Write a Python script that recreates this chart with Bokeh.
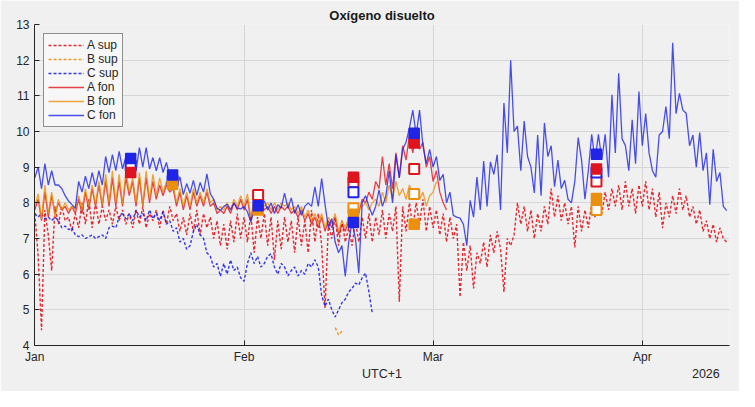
import numpy as np
import pandas as pd
from bokeh.plotting import figure
from bokeh.models import (Legend, LegendItem, FixedTicker, MonthsTicker,
                          DatetimeTickFormatter, Range1d, DatetimeAxis)
from bokeh.embed import file_html
from bokeh.resources import INLINE

nan = np.nan
START = "2026-01-01 00:00"          # first sample
X_START = "2025-12-31 23:00"        # axis start
X_END = "2026-04-13 22:00"          # axis end
STEP_H = 12  # sampling step of the series (hours)

# ---------------- data ----------------
a_sup = [7.7, 6.5, 4.43, 7.8, 7.1, 6.1, 7.9, 7.4, 7.9, 7.5, 7.6, 7.2, 7.7, 7.3, 8.0, 7.4,
         8.1, 7.3, 8.0, 7.4, 7.9, 7.5, 7.8, 7.4, 7.9, 7.5, 7.8, 7.4, 7.7, 7.3, 7.8, 7.4,
         7.9, 7.3, 7.7, 7.5, 7.8, 7.3, 7.8, 7.4, 7.9, 7.5, 7.7, 7.2, 7.6, 7.1, 7.7, 7.2,
         7.8, 7.1, 7.7, 7.3, 7.6, 7.0, 7.5, 6.8, 7.4, 6.7, 7.5, 6.9, 7.7, 7.0, 7.6, 6.9,
         7.7, 6.6, 7.6, 7.0, 7.7, 6.8, 7.6, 6.4, 7.5, 6.7, 7.6, 6.9, 7.5, 6.6, 7.6, 6.8,
         7.5, 6.6, 7.8, 6.9, 7.7, 6.8, 5.05, 7.4, 7.0, 7.6, 6.8, 7.5, 6.9, 7.3, 6.8, 7.5,
         6.9, 7.6, 7.0, 7.7, 6.9, 7.6, 7.1, 7.8, 7.0, 7.7, 7.2, 7.9, 5.23, 7.9, 7.2, 8.0,
         7.3, 8.0, 7.4, 8.1, 7.2, 7.9, 7.3, 7.8, 7.1, 7.7, 6.9, 7.6, 7.0, 7.4, 5.36, 6.9,
         6.1, 6.8, 5.6, 6.6, 6.3, 6.9, 6.2, 7.1, 6.6, 7.2, 6.7, 5.5, 7.0, 6.8, 7.1, 8.0,
         7.4, 7.9, 7.2, 7.8, 7.0, 7.7, 7.2, 7.9, 7.4, 8.4, 7.6, 8.2, 7.5, 8.0, 7.4, 7.9,
         6.75, 7.9, 7.2, 7.8, 7.3, 8.0, 7.6, 8.2, 7.7, 8.3, 7.8, 8.4, 7.9, 8.5, 7.8, 8.6,
         7.9, 8.4, 7.7, 8.5, 7.9, 8.6, 7.8, 8.4, 7.6, 8.3, 7.29, 8.0, 7.6, 8.2, 7.7, 8.4,
         7.8, 8.2, 7.6, 7.9, 7.4, 7.8, 7.2, 7.5, 7.0, 7.4, 6.9, 7.3, 7.0, 6.9]

b_sup = [nan] * 89 + [4.5, 4.3, 4.4]

c_sup = [7.7, 7.6, 7.7, 7.55, 7.6, 7.5, 7.6, 7.5, 7.3, 7.35, 7.25, 7.3, 7.1, 7.05, 7.1, 7.0,
         7.05, 7.1, 7.0, 7.05, 7.1, 7.0, 7.3, 7.35, 7.3, 7.6, 7.7, 7.55, 7.7, 7.5, 7.8, 7.6,
         7.7, 7.5, 7.8, 7.55, 7.7, 7.5, 7.75, 7.4, 7.5, 7.2, 7.3, 6.9, 7.0, 6.7, 6.8, 7.2,
         7.4, 7.1, 7.0, 6.6, 6.5, 6.2, 6.3, 5.94, 6.3, 6.0, 6.4, 6.1, 6.2, 5.9, 5.8, 6.3,
         6.6, 6.3, 6.5, 6.2, 6.3, 6.5, 6.57, 6.2, 6.0, 6.3, 6.2, 5.95, 6.1, 6.2, 5.95, 6.1,
         6.0, 6.3, 6.2, 6.4, 6.2, 5.4, 5.1, 5.3, 5.0, 4.8, 5.0, 5.2, 5.3, 5.5, 5.6, 5.75,
         5.7, 5.9, 6.03, 5.5, 4.9]

a_fon = [7.8, 8.1, 7.5, 8.3, 7.6, 8.2, 7.7, 8.0, 7.8, 7.9, 7.7, 7.9, 7.7, 8.1, 7.7, 8.3,
         7.8, 8.4, 7.9, 8.5, 7.9, 8.6, 7.9, 8.7, 7.9, 8.6, 7.9, 8.7, 8.2, 8.6, 7.9, 8.7,
         7.9, 8.7, 8.0, 8.6, 8.1, 8.5, 8.2, 8.5, 8.3, 8.4, 7.9, 8.3, 7.8, 8.2, 7.8, 8.3,
         7.9, 8.2, 7.9, 8.3, 7.9, 8.0, 7.7, 7.8, 7.7, 7.9, 7.7, 8.0, 7.8, 8.1, 7.8, 8.1,
         7.5, 8.0, 7.8, 8.0, 7.8, 7.9, 7.7, 7.9, 7.7, 7.9, 7.8, 7.9, 7.7, 7.8, 7.6, 7.8,
         7.5, 7.7, 7.4, 7.6, 7.3, 7.6, 7.2, 7.5, 7.3, 7.6, 7.1, 7.4, 7.2, 7.5, 7.6, 7.4,
         7.7, 8.1, 8.0, 8.3, 8.1, 8.6, 8.4, 9.3, 8.5, 9.1, 8.4, 9.4, 8.7, 9.6, 9.2, 9.9,
         9.4, 10.0, 9.5, 9.7, 9.0, 9.3, 8.6, 8.9, 8.3, 8.0, 7.8]

b_fon = [7.9, 8.25, 7.55, 8.5, 7.7, 8.3, 7.6, 8.1, 7.8, 8.0, 7.8, 7.9, 7.8, 8.2, 7.8, 8.4,
         7.9, 8.5, 7.95, 8.6, 7.95, 8.8, 8.0, 8.9, 8.0, 8.8, 7.95, 8.9, 8.3, 8.7, 8.0, 8.85,
         7.9, 8.9, 8.1, 8.8, 8.2, 8.7, 8.3, 8.6, 8.4, 8.5, 8.0, 8.4, 7.9, 8.3, 7.9, 8.4,
         8.0, 8.3, 8.0, 8.4, 8.0, 8.1, 7.8, 7.9, 7.8, 8.0, 7.8, 8.1, 7.9, 8.2, 7.9, 8.25,
         7.6, 8.1, 7.9, 8.1, 7.9, 8.0, 7.8, 8.0, 7.8, 8.0, 7.9, 8.0, 7.8, 7.9, 7.7, 7.9,
         7.6, 7.8, 7.5, 7.7, 7.4, 7.7, 7.3, 7.6, 7.4, 7.7, 7.2, 7.5, 7.3, 7.6, 7.7, 7.5,
         7.8, 7.9, 8.0, 7.8, 8.0, 8.1, 7.9, 8.3, 8.0, 8.5, 8.1, 8.6, 8.2, 8.4, 8.1, 8.5,
         8.2, 8.4, 8.1, 8.3, 7.9, 8.2, 8.3, 8.6]

c_fon = [8.7, 9.0, 8.4, 9.1, 8.5, 8.9, 8.5, 8.5, 8.4, 8.2, 8.05, 7.95, 7.85, 8.6, 8.3, 8.75,
         8.4, 8.85, 8.45, 8.9, 8.5, 9.3, 8.85, 9.35, 8.9, 9.44, 8.95, 9.3, 9.0, 9.35, 8.9, 9.55,
         9.0, 9.55, 8.95, 9.27, 8.9, 9.27, 8.85, 9.13, 8.75, 8.9, 8.41, 8.73, 8.23, 8.54, 8.27, 8.63,
         8.21, 8.57, 8.3, 8.81, 8.26, 8.1, 7.85, 7.79, 7.9, 7.96, 7.8, 8.0, 7.85, 7.83, 7.9, 7.75,
         7.47, 7.8, 7.85, 8.0, 8.05, 7.8, 8.0, 7.7, 7.95, 7.85, 8.27, 7.85, 8.14, 7.7, 7.95, 7.65,
         7.9, 8.0, 7.9, 8.45, 7.9, 8.68, 7.95, 7.3, 7.56, 6.9, 6.6, 6.8, 5.94, 6.9, 7.45, 7.0,
         6.03, 8.0, 8.2, 7.9, 7.65, 7.9, 8.36, 7.9, 8.18, 8.9, 8.0, 9.35, 8.7, 9.5, 9.7, 10.1,
         10.6, 9.9, 10.6, 9.6, 9.1, 9.5, 9.0, 9.3, 8.63, 8.8, 8.0, 8.3, 7.65, 7.6, 7.57, 7.4,
         6.8, 8.07, 7.6, 8.72, 7.8, 9.17, 7.9, 9.15, 8.8, 9.35, 7.8, 10.8, 9.4, 12.0, 10.0, 10.15,
         8.9, 10.29, 9.3, 9.0, 8.28, 9.9, 8.2, 10.24, 9.3, 9.6, 8.45, 9.2, 8.4, 8.63, 8.1, 8.0,
         8.6, 9.83, 9.2, 8.1, 8.9, 9.92, 9.2, 9.92, 9.2, 9.92, 8.72, 11.03, 9.4, 11.63, 9.8, 9.6,
         8.9, 10.33, 9.1, 11.12, 9.6, 10.5, 9.4, 8.9, 8.72, 9.9, 10.0, 10.7, 9.8, 12.49, 10.5, 11.07,
         10.6, 10.51, 9.6, 9.9, 9.0, 9.97, 8.9, 9.4, 7.95, 9.5, 8.6, 8.85, 7.9, 7.78]

# discrete samples (squares): filled = fondo, open = superficie
sample_dates = ["2026-01-15 05:00", "2026-01-21 10:00", "2026-02-03 02:00",
                "2026-02-17 05:00", "2026-02-26 05:00", "2026-03-25 05:00"]
a_fon_s = [8.85, nan, nan, 8.72, 9.68, 8.95]
b_fon_s = [nan, 8.52, 7.8, 7.68, 7.4, 8.12]
c_fon_s = [9.24, 8.78, 7.92, 7.45, 9.95, 9.36]
a_sup_s = [nan, nan, 8.22, 8.58, 8.95, 8.6]
b_sup_s = [nan, nan, nan, 7.85, 8.25, 7.8]
c_sup_s = [9.05, 8.62, nan, 8.3, nan, 8.85]

labels = ["A sup", "B sup", "C sup", "A fon", "B fon", "C fon"]
y_ticks = [4, 5, 6, 7, 8, 9, 10, 11, 12, 13]
title_text = "Oxígeno disuelto"
tz_text = "UTC+1"
year_text = "2026"

# ---------------- styling ----------------
RED = "#e0141e"
ORANGE = "#ec8f0c"
BLUE = "#1f24e6"
BG = "#f0f0f0"
AX = "#262626"
FONT = "Liberation Sans"


def times(vals):
    t0 = pd.Timestamp(START)
    return [t0 + pd.Timedelta(hours=STEP_H * i) for i in range(len(vals))]


def ms(ts):
    return pd.Timestamp(ts).value / 1e6


x0, x1 = pd.Timestamp(X_START), pd.Timestamp(X_END)

p = figure(x_axis_type="datetime", frame_width=695, frame_height=321,
           min_border_left=34, min_border_right=10, min_border_top=24, min_border_bottom=46,
           output_backend="svg", toolbar_location=None,
           x_range=Range1d(x0, x1), y_range=Range1d(4, 13))
p.background_fill_color = BG
p.border_fill_color = BG
p.outline_line_color = None

# title
p.title.text = title_text
p.title.align = "center"
p.title.text_font = FONT
p.title.text_font_size = "13px"
p.title.text_font_style = "bold"
p.title.text_color = "#1a1a1a"
p.title.standoff = 4
p.title.offset = 0

# grid
p.xgrid.ticker = MonthsTicker(months=list(range(1, 13)))
p.grid.grid_line_color = "#d6d6d6"
p.grid.grid_line_width = 1

# axes
p.xaxis.ticker = MonthsTicker(months=list(range(1, 13)))
p.xaxis.formatter = DatetimeTickFormatter(months="%b", days="%b", years="%b")
p.yaxis.ticker = FixedTicker(ticks=y_ticks)
for ax in (p.xaxis[0], p.yaxis[0]):
    ax.axis_line_color = AX
    ax.major_tick_line_color = AX
    ax.major_tick_in = 5
    ax.major_tick_out = 0
    ax.minor_tick_line_color = None
    ax.major_label_text_color = AX
    ax.major_label_text_font = FONT
    ax.major_label_text_font_size = "12px"
    ax.major_label_standoff = 4
p.yaxis.major_label_standoff = 5

# second, label-only axis: "UTC+1" centred, "2026" at the right end
t_mid = ms(x0 + (x1 - x0) / 2)
t_year = ms(x1 - pd.Timedelta(hours=84))
ax2 = DatetimeAxis(ticker=FixedTicker(ticks=[t_mid, t_year]),
                   major_label_overrides={t_mid: tz_text, t_year: year_text})
ax2.axis_line_color = None
ax2.major_tick_line_color = None
ax2.minor_tick_line_color = None
ax2.major_tick_in = 0
ax2.major_tick_out = 0
ax2.major_label_text_color = AX
ax2.major_label_text_font = FONT
ax2.major_label_text_font_size = "12.5px"
ax2.major_label_standoff = 0
p.add_layout(ax2, "below")

# lines
specs = [
    (a_sup, RED, "3 2", 1.4, 0.9),
    (b_sup, ORANGE, "3 2", 1.4, 0.9),
    (c_sup, BLUE, "3 2", 1.4, 0.9),
    (a_fon, RED, "solid", 1.3, 0.8),
    (b_fon, ORANGE, "solid", 1.3, 0.8),
    (c_fon, BLUE, "solid", 1.3, 0.8),
]
items = []
for lab, (vals, col, dash, lw, al) in zip(labels, specs):
    r = p.line(times(vals), vals, line_color=col, line_dash=dash, line_width=lw, line_alpha=al)
    items.append(LegendItem(label=lab, renderers=[r]))

# squares
sd = [pd.Timestamp(d) for d in sample_dates]
for vals, col in ((a_sup_s, RED), (b_sup_s, ORANGE), (c_sup_s, BLUE)):
    p.scatter(sd, vals, marker="square", size=10, fill_color="white",
              line_color=col, line_width=2)
for vals, col in ((a_fon_s, RED), (b_fon_s, ORANGE), (c_fon_s, BLUE)):
    p.scatter(sd, vals, marker="square", size=10, fill_color=col,
              line_color=col, line_width=1.5)

legend = Legend(items=items, location="top_left", margin=9, padding=4, spacing=0,
                glyph_width=36, glyph_height=14, label_height=14, label_standoff=3,
                label_text_font=FONT, label_text_font_size="12px", label_text_color=AX,
                border_line_color=AX, border_line_width=1,
                background_fill_color="#f7f7f7", background_fill_alpha=1)
p.add_layout(legend)

open("out.html", "w").write(file_html(p, INLINE))
